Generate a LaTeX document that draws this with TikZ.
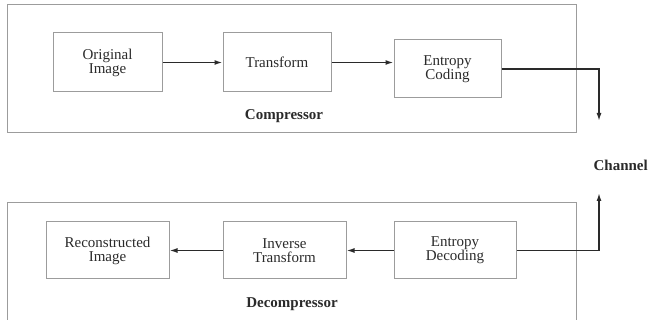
\documentclass[tikz,border=0pt]{standalone}
\usepackage{fontspec}
\setmainfont{Liberation Serif}
\usetikzlibrary{positioning,arrows.meta}
\definecolor{boxgray}{HTML}{9C9C9C}
\definecolor{inkgray}{HTML}{2A2A2A}
\tikzset{
  block/.style={draw=boxgray, line width=1pt, rectangle, minimum height=59pt, align=center, inner sep=0pt, text=inkgray, font=\fontsize{15}{14}\selectfont},
  frame/.style={draw=boxgray, line width=1pt},
  flow/.style={draw=inkgray, line width=1.5pt, -{Latex[length=8pt,width=5pt]}},
  title/.style={font=\fontsize{15}{15}\selectfont\bfseries, text=inkgray}
}
\begin{document}
\begin{tikzpicture}[x=1pt, y=-1pt, node distance=60pt]
    \useasboundingbox (0,0) rectangle (648,320);
    % Frames
    \draw[frame] (7,5) rectangle (576,133);
    \draw[frame] (7,203) rectangle (576,330);

    % Compressor nodes
    \node[block, minimum width=109pt] (orig) at (107.5,62.5) {Original\\Image};
    \node[block, minimum width=108pt, right=60pt of orig] (trans) {Transform};
    \node[block, minimum width=107pt, minimum height=58pt, right=62pt of trans, yshift=-6.5pt] (entc) {Entropy\\Coding};
    \node[title] (complabel) at (284,116) {Compressor};

    % Decompressor nodes
    \node[block, minimum width=123pt, minimum height=57pt] (recon) at (107.5,250.5) {Reconstructed\\Image};
    \node[block, minimum width=123pt, minimum height=57pt, right=53pt of recon] (inv) {Inverse\\Transform};
    \node[block, minimum width=122pt, minimum height=57pt, right=47pt of inv] (entd) {Entropy\\Decoding};
    \node[title] (decomplabel) at (292,304) {Decompressor};

    % Channel
    \node[title, anchor=east, inner sep=0pt] (chlabel) at (648,165) {Channel};
    \coordinate (chtop) at (599,121);
    \coordinate (chbot) at (599,193);

    % Arrows
    \draw[flow] (orig) -- (trans);
    \draw[flow] (trans.east) -- (trans.east -| entc.west);
    \draw[flow] (entc.east) -| (chtop);
    \draw[flow] (entd.east) -| (chbot);
    \draw[flow] (entd) -- (inv);
    \draw[flow] (inv) -- (recon);
\end{tikzpicture}
\end{document}
